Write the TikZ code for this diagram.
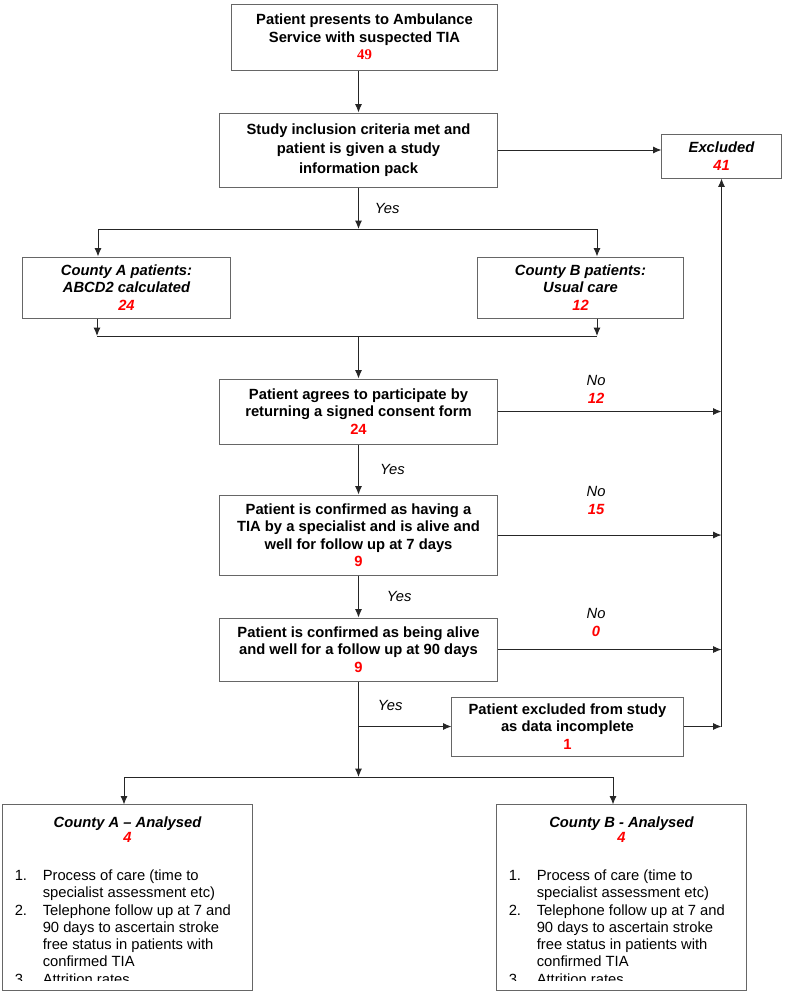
\documentclass[tikz,border=0pt]{standalone}
\usepackage{fontspec}
\setmainfont{Liberation Sans}
\newfontfamily\serifnum{Liberation Serif}
\usetikzlibrary{arrows.meta, positioning}

\newcommand{\redno}[1]{{\color{red}\bfseries #1}}
\newcommand{\redit}[1]{{\color{red}\bfseries\itshape #1}}
\newcommand{\outcomelist}{\begin{tabular}{@{}p{0.7cm}@{}l@{}}
1. & Process of care (time to\\
   & specialist assessment etc)\\
2. & Telephone follow up at 7 and\\
   & 90 days to ascertain stroke\\
   & free status in patients with\\
   & confirmed TIA\\
3. & Attrition rates
\end{tabular}}

\begin{document}
\begin{tikzpicture}[
    x=0.025cm, y=-0.025cm,
    process/.style={rectangle, draw=black!60, line width=0.7pt, align=center, inner sep=2pt, font=\bfseries\fontsize{10.5}{12.4}\selectfont},
    group/.style={process, font=\bfseries\itshape\fontsize{10.5}{12.4}\selectfont},
    panel/.style={rectangle, draw=black!60, line width=0.7pt, minimum width=6.225cm, minimum height=4.625cm},
    paneltitle/.style={align=center, inner sep=0pt, font=\bfseries\itshape\fontsize{10.5}{11.3}\selectfont},
    steplist/.style={inner sep=0pt, font=\fontsize{10.5}{12.3}\selectfont},
    answer/.style={align=center, font=\itshape\fontsize{10.5}{12.75}\selectfont},
    arrow/.style={draw=black!85, line width=0.7pt, -{Latex[length=6pt, width=5pt]}},
    link/.style={draw=black!85, line width=0.7pt}
]

\fill[white] (0,0) rectangle (784,994);
\useasboundingbox (0,0) rectangle (784,994);

\node (present) [process, minimum width=6.625cm, minimum height=1.65cm] at (364.5,37) {Patient presents to Ambulance\\Service with suspected TIA\\{\serifnum\redno{49}}};
\node (criteria) [process, minimum width=6.925cm, minimum height=1.85cm, font=\bfseries\fontsize{10.5}{14}\selectfont] at (358.5,150) {Study inclusion criteria met and\\patient is given a study\\information pack};
\node (excluded) [group, minimum width=2.975cm, minimum height=1.1cm] at (721.5,156) {Excluded\\\redit{41}};
\node (countyA) [group, minimum width=5.175cm, minimum height=1.525cm] at (126.5,287.5) {County A patients:\\ABCD2 calculated\\\redit{24}};
\node (countyB) [group, minimum width=5.125cm, minimum height=1.525cm] at (580.5,287.5) {County B patients:\\Usual care\\\redit{12}};
\node (consent) [process, minimum width=6.925cm, minimum height=1.625cm] at (358.5,411.5) {Patient agrees to participate by\\returning a signed consent form\\\redno{24}};
\node (sevenday) [process, minimum width=6.925cm, minimum height=2cm, below=1.25cm of consent] {Patient is confirmed as having a\\TIA by a specialist and is alive and\\well for follow up at 7 days\\\redno{9}};
\node (ninetyday) [process, minimum width=6.925cm, minimum height=1.575cm, below=1.05cm of sevenday] {Patient is confirmed as being alive\\and well for a follow up at 90 days\\\redno{9}};
\node (incomplete) [process, minimum width=5.775cm, minimum height=1.475cm] at (567.5,726.5) {Patient excluded from study\\as data incomplete\\\redno{1}};
\node (analysedA) [panel] at (127.5,897.5) {};
\node (analysedB) [panel] at (621.5,897.5) {};

% panel contents, cut off at the lower edge
\begin{scope}
  \clip (analysedA.north west) rectangle ([yshift=0.24cm]analysedA.south east);
  \node (titleA) [paneltitle, anchor=north] at ([yshift=-0.29cm]analysedA.north) {County A – Analysed\\\redit{4}};
  \node (listA) [steplist, anchor=north west] at ([xshift=0.3cm, yshift=-1.59cm]analysedA.north west) {\outcomelist};
\end{scope}
\begin{scope}
  \clip (analysedB.north west) rectangle ([yshift=0.24cm]analysedB.south east);
  \node (titleB) [paneltitle, anchor=north] at ([yshift=-0.29cm]analysedB.north) {County B - Analysed\\\redit{4}};
  \node (listB) [steplist, anchor=north west] at ([xshift=0.3cm, yshift=-1.59cm]analysedB.north west) {\outcomelist};
\end{scope}

\coordinate (splitA) at (98,229);
\coordinate (splitB) at (597,229);
\coordinate (mergeA) at (97,336);
\coordinate (mergeB) at (597,336);
\coordinate (splitC) at (124,777);
\coordinate (splitD) at (613,777);

\draw [arrow] (present.south -| criteria.north) -- (criteria.north);
\draw [arrow] (criteria.east) -- (criteria.east -| excluded.west);
\draw [arrow] (criteria.south) -- node[answer, right, xshift=0.28cm] {Yes} (criteria.south |- splitA);
\draw [link] (splitA) -- (splitB);
\draw [arrow] (splitA) -- (splitA |- countyA.north);
\draw [arrow] (splitB) -- (splitB |- countyB.north);
\draw [arrow] (mergeA |- countyA.south) -- (mergeA);
\draw [arrow] (mergeB |- countyB.south) -- (mergeB);
\draw [link] (mergeA) -- (mergeB);
\draw [arrow] (consent.north |- mergeA) -- (consent.north);
\draw [arrow] (consent) -- node[answer, right, xshift=0.41cm] {Yes} (sevenday);
\draw [arrow] (sevenday) -- node[answer, right, xshift=0.58cm] {Yes} (ninetyday);
\draw [arrow] (consent.east) -- node[answer, above, pos=0.44, yshift=0.07cm] {No\\\redit{12}} (consent.east -| excluded.south);
\draw [arrow] (sevenday.east) -- node[answer, above, pos=0.44, yshift=0.37cm] {No\\\redit{15}} (sevenday.east -| excluded.south);
\draw [arrow] (ninetyday.east) -- node[answer, above, pos=0.44, yshift=0.195cm] {No\\\redit{0}} (ninetyday.east -| excluded.south);
\draw [arrow] (incomplete.east) -- (incomplete.east -| excluded.south);
\draw [arrow] (incomplete.east -| excluded.south) -- (excluded.south);
\draw [arrow] (ninetyday.south) -- (ninetyday.south |- splitC);
\draw [arrow] (ninetyday.south |- incomplete.west) -- node[answer, above, pos=0.34, yshift=0.27cm] {Yes} (incomplete.west);
\draw [link] (splitC) -- (splitD);
\draw [arrow] (splitC) -- (splitC |- analysedA.north);
\draw [arrow] (splitD) -- (splitD |- analysedB.north);

\end{tikzpicture}
\end{document}
